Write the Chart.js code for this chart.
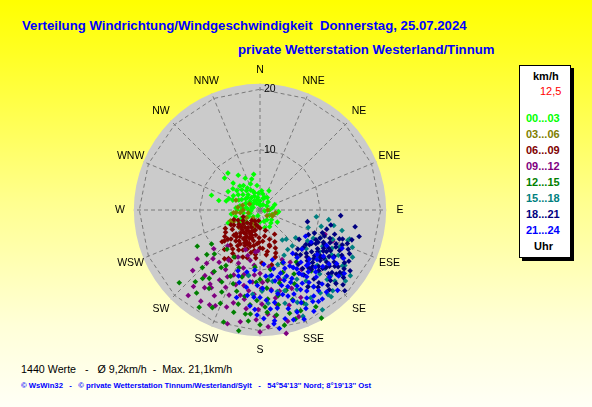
<!DOCTYPE html>
<html>
<head>
<meta charset="utf-8">
<script src="https://cdn.jsdelivr.net/npm/chart.js@4.4.0/dist/chart.umd.min.js"></script>
<style>
  html, body { margin: 0; padding: 0; }
  body {
    width: 592px; height: 407px; overflow: hidden; position: relative;
    background: linear-gradient(180deg, #ffff00 0%, #ffff20 12%, #ffff90 50%, #ffffd8 80%, #fffff6 100%);
    font-family: "Liberation Sans", Arial, sans-serif;
  }
  .t { position: absolute; white-space: pre; line-height: 1; }
  .title { font-size: 13.2px; font-weight: bold; color: #0000ff; }
  #legend {
    position: absolute; left: 519px; top: 65px; width: 50px; height: 191px;
    background: #fff; border: 1px solid #000; box-shadow: 3px 3px 0 #000;
  }
  .lg { position: absolute; white-space: pre; line-height: 1; font-size: 11px; font-weight: bold; }
  #wrap { position: absolute; left: 90px; top: 40px; width: 340px; height: 340px; }
</style>
</head>
<body>
<div class="t title" style="left:22px; top:19px;">Verteilung Windrichtung/Windgeschwindigkeit  Donnerstag, 25.07.2024</div>
<div class="t title" style="left:238px; top:43px;">private Wetterstation Westerland/Tinnum</div>

<div id="legend"></div>

<div class="t" style="left:21px; top:364px; font-size:10.7px; color:#000;">1440 Werte   -   Ø 9,2km/h  -  Max. 21,1km/h</div>
<div class="t" style="left:21px; top:382px; font-size:7.7px; font-weight:bold; color:#0000ff;">© WsWin32   -   © private Wetterstation Tinnum/Westerland/Sylt   -   54°54'13'' Nord; 8°19'13'' Ost</div>

<div id="wrap"><canvas id="myChart" width="340" height="340"></canvas></div>

<script>
// Windrichtung (Grad) und Geschwindigkeit (km/h), je 3-Stunden-Block
const wind0003 = [[350,2.1],[342,3.0],[353,4.1],[326,4.9],[308,5.7],[319,8.1],[312,7.9],[287,8.4],[283,7.0],[248,5.7],
  [300,3.5],[295,2.6],[310,2.2],[330,1.8],[0,1.5],[15,2.0],[21,2.2],[335,3.6],[322,3.2],[305,4.4],[290,4.8],[275,4.0],
  [268,3.1],[280,2.3],[260,2.8],[255,4.2],[245,3.5],[320,5.2],[300,6.1],[315,6.3],[298,5.0],[285,5.8],[340,4.6],[345,5.3],
  [5,3.2],[10,2.7],[30,1.0],[60,1.3],[90,1.6],[110,2.2],[130,2.5],[150,3.2],[140,2.8],[160,2.0],[120,1.8],[100,2.9],
  [80,2.1],[338,2.5],[318,1.5],[290,1.2],[270,1.9],[240,2.2],[225,1.6],[200,1.0],[350,6.0],[328,6.8],[312,3.8],[302,2.0],[335,1.2],
  [355,1.0],[345,1.8],[325,2.5],[315,2.9],[300,1.6],[285,1.4],[275,2.9],[265,1.5],[250,1.8],[340,3.3],[330,4.2],[318,4.5],
  [308,3.0],[295,3.9],[282,3.4],[270,3.8],[5,0.8],[30,2.4],[45,1.9],[70,2.6],[95,3.1],[125,3.5],[145,2.0],[100,0.8],[355,2.8],
  [325,3.9],[290,5.5],[310,5.0],[335,5.8],[262,4.8],[240,4.0],[228,3.0],[180,2.0],[165,3.0],[25,3.5]];
const wind0306 = [[292,4.3],[264,4.4],[246,4.8],[235,3.4],[113,2.1],[90,1.3],[256,2.0],[277,3.7],[262,3.3],[115,2.3],
  [240,2.6],[225,3.8],[250,5.2],[270,2.8],[285,3.0],[210,2.4],[200,3.0],[130,1.5],[100,2.6],[300,2.0],[230,4.5],[220,1.8],[264,4.0]];
const wind0609 = [[202,4.3],[228,7.2],[213,9.6],[162,5.1],[149,4.7],[210,9.7],[237,6.8],[248,3.0],[195,3.5],[200,5.0],
  [205,6.0],[210,5.5],[215,4.6],[220,3.8],[190,4.2],[185,5.6],[198,6.8],[208,7.5],[218,6.5],[225,5.6],[232,4.5],[240,5.0],
  [230,8.2],[222,8.8],[215,7.9],[192,7.2],[180,6.3],[175,5.2],[170,4.4],[165,6.0],[158,6.8],[172,7.5],[185,8.0],[195,2.5],
  [205,2.0],[215,2.8],[225,3.0],[180,3.0],[188,1.8],[200,3.8],[212,4.0],[208,5.2],[198,5.8],[203,6.4],[190,6.0],[220,5.0],
  [228,4.2],[235,5.6],[245,4.0],[242,6.5],[233,7.3],[212,8.5],[200,8.3],[178,8.8],[168,9.3],[160,7.6],[155,5.8],[165,3.5],
  [182,4.6],[196,4.8],[206,3.2],[218,2.2],[238,3.3],[225,6.8],[214,6.2],[216,10.0],[165,6.2],
  [205,4.0],[198,4.4],[192,5.2],[210,6.5],[217,5.5],[222,4.4],[230,3.6],[236,4.2],[226,6.0],[203,7.2],[195,6.2],[188,6.8],
  [182,5.4],[176,6.4],[212,7.0],[220,7.6],[208,8.8],[195,8.2],[186,7.4],[200,6.0],[214,3.5],[207,4.9],[193,3.4],[221,5.9],
  [229,7.8],[170,7.0],[162,8.2],[243,5.4],[250,4.6],[186,2.8],[204,5.6],[211,4.6]];
const wind0912 = [[215.5,15.8],[208,16.1],[200,15.0],[210,13.4],[202,11.6],[196,10.0],[191,8.5],[183,6.8],[168,20.9],[175.7,17.3],
  [170,15.9],[166.5,13.8],[178.8,15.6],[220,14.2],[225,12.5],[218,11.0],[212,9.8],[205,8.6],[198,13.0],[193,14.5],[188,16.5],
  [182,18.2],[176,19.4],[186,12.0],[180,10.5],[174,11.8],[172,13.3],[190,18.8],[205,17.5],[213,18.0],[221,16.8],[228,15.0],
  [232,13.2],[230,10.0],[222,8.0],[200,7.0],[186,9.2],[163,16.5],[160,18.8],[158,14.0],[196,19.6],[184,14.0],[206,12.3],
  [214,14.8],[199,17.0],[192,12.8],[179,13.0],[171,9.5],[110.5,11.5],[113,13.1],[135,11.0],[145,12.0],[150,10.0],[156,9.0],
  [212,15.2],[204,14.0],[196,16.0],[188,13.5],[181,16.5],[172,17.8],[166,19.0],[210,11.4],[217,13.0],[224,11.2],[202,9.5],
  [194,11.0],[185,10.8],[178,12.0],[170,14.8],[164,12.0],[190,15.0],[208,17.8],[220,18.5],[195,7.8],[186,7.0],[155,16.0],[180,20.2]];
const wind1215 = [[217.4,17.3],[216.6,14.1],[216.7,12.7],[194.4,17.5],[188,17.4],[185.3,17.3],[177,16.1],[171,17.6],[164,17.8],
  [150.4,20.6],[211.5,10.8],[235,9.8],[209,8.9],[178.6,13.4],[165,12.5],[173.7,11.7],[225,13.5],[230,11.5],[222,16.0],[205,15.0],
  [200,13.0],[195,11.5],[190,14.5],[183,12.0],[168,14.5],[160,15.8],[155,13.5],[160,11.0],[170,10.0],[185,9.5],[200,10.2],
  [212,19.0],[198,19.5],[180,19.0],[190,20.3],[175,14.8],[155,17.0],[148,15.0],[140,13.2],[145,10.5],[220,8.5],[240,12.0],
  [228,18.0],[206,18.0],[186,15.8],[162,19.0],[157,9.5],[193,16.0],
  [213,15.5],[220,14.8],[208,13.5],[203,16.8],[196,14.0],[182,15.0],[176,17.0],[169,16.0],[162,14.0],[152,12.0],[158,18.0],
  [168,19.5],[186,18.5],[204,12.0],[214,11.5],[226,10.5],[190,11.0],[180,11.5],[175,13.0],[150,18.5]];
const wind1518 = [[96.9,9.4],[101.9,12.5],[143.4,6.2],[123,9.4],[109,15.4],[123.2,16.8],[128.5,17.1],[129.7,18.4],[141.2,18.0],
  [146,13.0],[171.6,11.1],[178.6,13.4],[108,15.6],[133.5,17.1],[140.6,18.6],[154,17.4],[138,8.0],[138,6.5],[115,11.0],[118,13.5],
  [125,12.0],[132,14.5],[135,11.5],[145,15.5],[150,11.0],[155,14.5],[160,12.0],[165,16.0],[158,19.0],[148,19.5],[120,15.0],
  [112,13.0],[105,10.5],[130,10.0],[140,12.8],[126,18.5],[117,17.2],[136,16.0],[152,8.5],[162,9.5],[168,13.8],[175,15.5],
  [185,14.0],[190,11.0],[128,7.5],[110,8.5],[142,10.0],[150,16.8],[122,14.0],[134,13.2],
  [115,14.5],[120,12.0],[127,13.5],[133,16.0],[138,18.0],[144,17.0],[147,14.0],[152,13.0],[158,16.5],[163,14.0],[170,12.0],
  [130,12.5],[124,16.5],[112,16.5],[104,14.0],[98,11.5],[118,10.0],[145,8.0],[160,17.8],[137,14.5]];
const wind1821 = [[127.2,12.5],[126.9,8.1],[109.4,14.5],[127.4,17.3],[148.4,12.3],[103.8,8.1],[94,13.4],[133.6,19.4],[113,9.8],
  [115,11.0],[118,12.0],[120,13.5],[122,14.5],[125,15.0],[128,14.0],[130,13.0],[132,12.0],[135,11.0],[138,10.0],[140,12.5],
  [136,14.0],[133,15.5],[130,16.5],[126,16.0],[123,12.5],[119,15.5],[116,14.0],[112,12.5],[110,11.0],[108,13.0],[114,16.0],
  [120,17.0],[124,18.0],[129,11.0],[131,9.5],[125,10.0],[121,10.8],[117,9.0],[134,13.5],[137,12.8],[142,14.5],[145,11.0],
  [143,16.0],[139,17.5],[128,12.8],[124,13.8],[119,13.0],[113,14.8],[106,11.5],[111,15.5],[127,15.5],[131,14.5],[135,16.5],
  [141,9.5],[117,11.8],[122,16.5],[102,12.0],[100,16.0],[105,17.0],[148,15.0],
  [118,10.5],[121,12.3],[124,11.5],[127,13.2],[129,14.8],[131,15.8],[133,14.2],[135,12.3],[137,11.5],[139,13.0],[141,15.5],
  [138,16.8],[134,17.5],[129,17.8],[125,17.0],[120,15.8],[117,14.8],[114,13.8],[112,11.5],[115,12.8],[119,11.0],[123,10.2],
  [127,9.5],[133,10.5],[136,9.0],[126,11.8],[130,11.8],[122,13.0],[116,16.5],[110,14.0],[108,16.0],[146,13.0],[144,12.0],
  [132,18.5],[128,16.8]];
const wind2124 = [[148.4,12.3],[170.7,19.9],[172.5,18.5],[158,19.5],[147.4,18.0],[198,11.5],[200,10.7],[181.6,17.4],[119.9,8.7],
  [188.4,14.3],[140,12.0],[145,13.5],[150,14.0],[155,12.5],[160,13.5],[165,14.5],[150,11.0],[142,10.0],[135,11.5],[138,13.8],
  [145,15.5],[152,16.5],[158,15.0],[162,11.0],[168,12.0],[172,13.5],[176,15.0],[164,17.0],[155,18.0],[148,16.8],[140,16.0],
  [132,14.0],[128,12.0],[125,15.5],[130,17.0],[136,18.5],[143,9.0],[156,9.5],[167,10.0],[175,11.0],[182,12.5],[185,10.0],
  [190,13.0],[180,14.5],[153,14.8],[147,12.8],[160,16.0],[170,16.5],[178,18.0],[186,16.0],[195,15.0],[122,10.0],[118,12.5],
  [115,15.0],[133,9.5],[163,19.0],[141,17.5],[157,10.5],[166,8.5],[176,9.0],[123,14.5],[120,16.0],[127,17.5],
  [138,12.0],[142,13.0],[146,14.5],[150,15.5],[154,14.0],[157,13.0],[161,12.3],[164,13.0],[168,14.2],[171,15.5],[174,16.5],
  [162,15.0],[156,16.8],[150,17.5],[144,16.5],[140,14.5],[136,13.2],[131,12.5],[148,11.5],[152,10.5],[158,11.8],[165,11.5],
  [170,11.0],[178,13.0],[184,14.5],[188,12.0],[160,18.0],[152,19.0],[145,18.0],[128,14.5],[134,16.0],[126,13.0],[142,11.0],
  [192,10.5],[196,12.5],[183,16.5],[167,18.5],[173,19.0]];

const timeBands = ['00...03', '03...06', '06...09', '09...12', '12...15', '15...18', '18...21', '21...24'];
const bandColors = ['#00ff00', '#808000', '#800000', '#800080', '#008000', '#008080', '#000080', '#0000ff'];
const bandData = [wind0003, wind0306, wind0609, wind0912, wind1215, wind1518, wind1821, wind2124];

const dirLabels = ['N', 'NNE', 'NE', 'ENE', 'E', 'ESE', 'SE', 'SSE', 'S', 'SSW', 'SW', 'WSW', 'W', 'WNW', 'NW', 'NNW'];
const ringTicks = [10, 20];
const discMax = 20.9;
const labelRadius = 23.2;
const axisRange = 27.5;

// Legende
const legend = document.getElementById('legend');
function addLegend(text, color, top, left, bold) {
  const d = document.createElement('div');
  d.className = 'lg';
  d.textContent = text;
  d.style.color = color;
  d.style.top = top + 'px';
  d.style.left = left + 'px';
  if (!bold) d.style.fontWeight = 'normal';
  legend.appendChild(d);
}
addLegend('km/h', '#000', 5, 13, true);
addLegend('12,5', '#ff0000', 20, 20, false);
timeBands.forEach(function (b, i) {
  addLegend(b, bandColors[i], 47 + i * 16.05, 6, true);
});
addLegend('Uhr', '#000', 175, 14, true);

// Polar -> Ost/Nord
function toXY(p) {
  const a = p[0] * Math.PI / 180;
  return { x: p[1] * Math.sin(a), y: p[1] * Math.cos(a) };
}

const polarGrid = {
  id: 'polarGrid',
  beforeDatasetsDraw(chart) {
    const ctx = chart.ctx;
    const xs = chart.scales.x, ys = chart.scales.y;
    const pt = function (dirDeg, r) {
      const a = dirDeg * Math.PI / 180;
      return [xs.getPixelForValue(r * Math.sin(a)), ys.getPixelForValue(r * Math.cos(a))];
    };
    const c = pt(0, 0);
    const rPx = Math.abs(xs.getPixelForValue(discMax) - c[0]);
    ctx.save();
    ctx.fillStyle = '#cbcbcb';
    ctx.beginPath();
    ctx.arc(c[0], c[1], rPx, 0, Math.PI * 2);
    ctx.fill();

    ctx.strokeStyle = '#7a7a7a';
    ctx.lineWidth = 1;
    ctx.setLineDash([4, 3]);
    // Ringe (16-Eck)
    ringTicks.forEach(function (t) {
      ctx.beginPath();
      for (let i = 0; i <= 16; i++) {
        const p = pt(i * 22.5, t);
        if (i === 0) ctx.moveTo(p[0], p[1]); else ctx.lineTo(p[0], p[1]);
      }
      ctx.stroke();
    });
    // Strahlen
    for (let i = 0; i < 16; i++) {
      const p = pt(i * 22.5, discMax);
      ctx.beginPath();
      ctx.moveTo(c[0], c[1]);
      ctx.lineTo(p[0], p[1]);
      ctx.stroke();
    }
    ctx.setLineDash([]);

    ctx.fillStyle = '#000';
    ctx.font = '10.5px "Liberation Sans", Arial, sans-serif';
    ctx.textAlign = 'left';
    ctx.textBaseline = 'middle';
    ringTicks.forEach(function (t) {
      const p = pt(0, t);
      ctx.fillText(String(t), p[0] + 4, p[1]);
    });
    ctx.textAlign = 'center';
    dirLabels.forEach(function (l, i) {
      const p = pt(i * 22.5, labelRadius);
      ctx.fillText(l, p[0], p[1]);
    });
    ctx.restore();
  }
};

const ctx = document.getElementById('myChart');
const myChart = new Chart(ctx, {
  type: 'scatter',
  data: {
    datasets: bandData.map(function (d, i) {
      return {
        label: timeBands[i],
        data: d.map(toXY),
        backgroundColor: bandColors[i],
        borderColor: bandColors[i],
        borderWidth: 0,
        pointStyle: 'rectRot',
        pointRadius: 2.8,
        order: bandData.length - i,
      };
    }),
  },
  options: {
    responsive: false,
    animation: false,
    layout: { padding: 0 },
    plugins: { legend: { display: false }, tooltip: { enabled: false } },
    scales: {
      x: { type: 'linear', display: false, min: -axisRange, max: axisRange },
      y: { type: 'linear', display: false, min: -axisRange, max: axisRange },
    },
  },
  plugins: [polarGrid],
});
</script>
</body>
</html>
